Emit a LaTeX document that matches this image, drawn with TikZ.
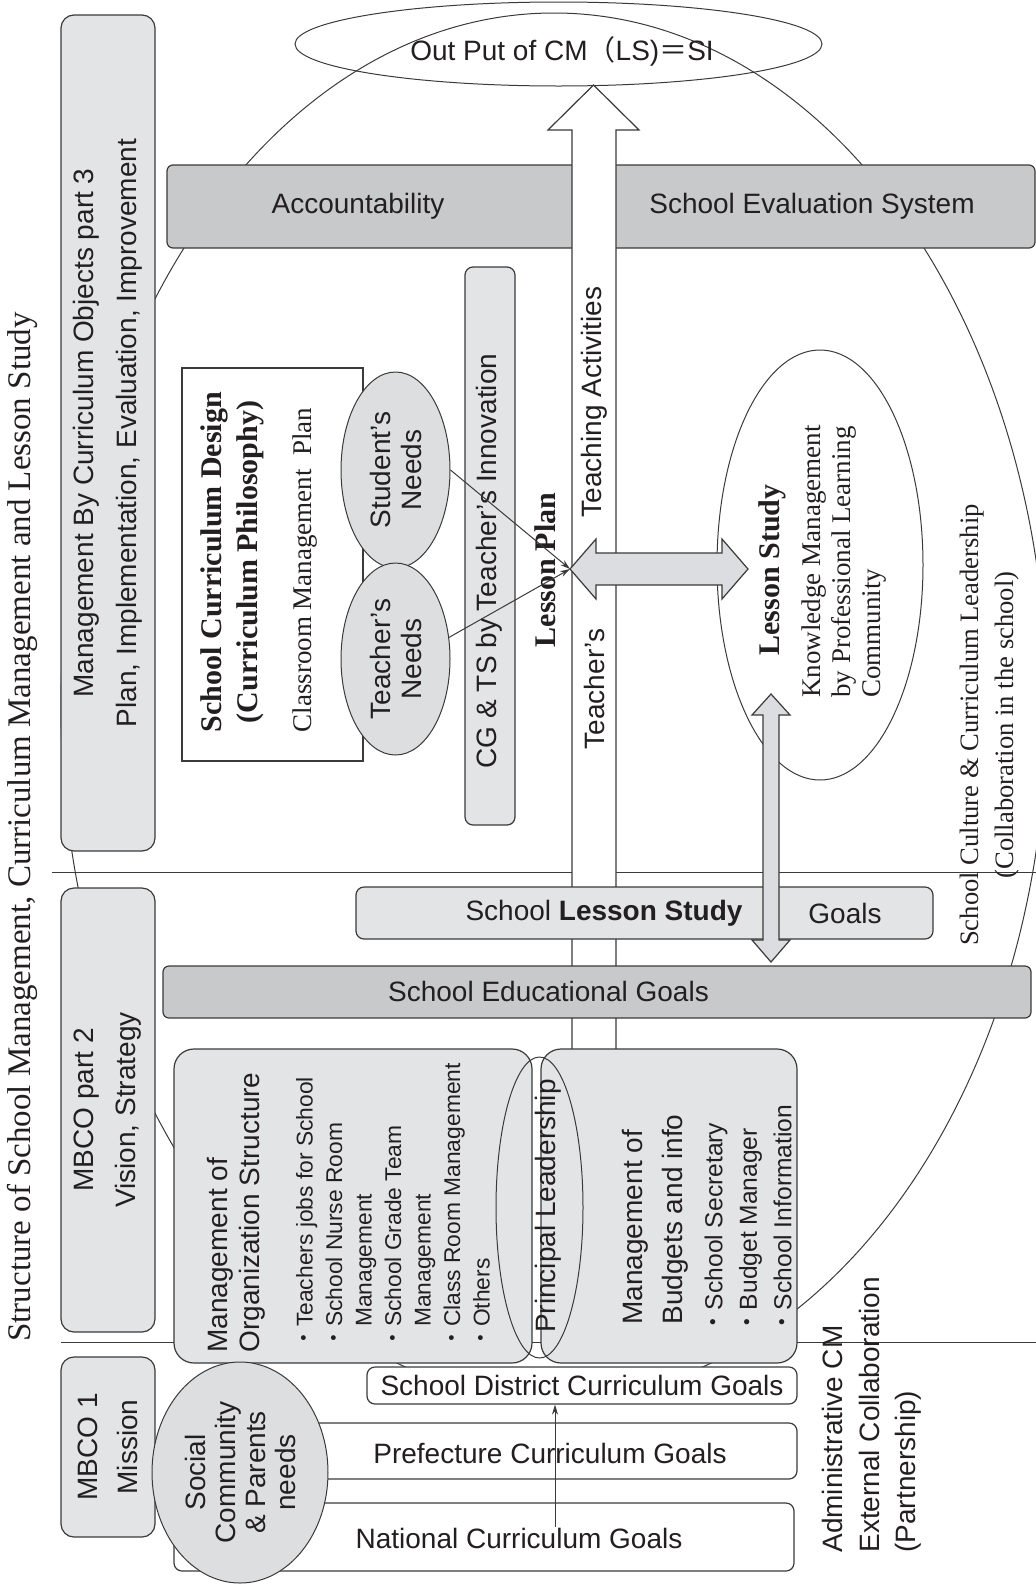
\documentclass[tikz,border=0pt]{standalone}
\usepackage{fontspec}
\setmainfont{Liberation Serif}
\setsansfont{Liberation Sans}
\newfontfamily\jpfont{Noto Sans CJK JP}
\usepackage{tikz}
\usetikzlibrary{shapes.geometric,arrows.meta}
\definecolor{linec}{HTML}{3A3A3A}
\definecolor{txtc}{HTML}{231F20}
\definecolor{lightfill}{HTML}{E3E4E6}
\definecolor{darkfill}{HTML}{C8C9CB}
\definecolor{ellfill}{HTML}{DDDEE0}
\definecolor{arrfill}{HTML}{DCDDE0}
\newlength{\dgu}\setlength{\dgu}{0.5pt}
\newcommand{\fsz}[2]{\fontsize{#1}{#2}\selectfont}
\newcommand{\jpdot}{{\jpfont ・}}

\begin{document}
\begin{tikzpicture}[x=1\dgu,y=-1\dgu,
pnl/.style n args={3}{draw=linec,fill=#1,rectangle,minimum width=#2\dgu,minimum height=#3\dgu,inner sep=0pt,line width=0.6pt,text=txtc},
ell/.style n args={3}{draw=linec,fill=#1,ellipse,minimum width=#2\dgu,minimum height=#3\dgu,inner sep=0pt,line width=0.5pt,text=txtc},
lbl/.style={inner sep=0pt,text=txtc},
fine/.style={draw=linec,line width=0.5pt},
blk/.style={draw=linec,line width=0.6pt}]
\useasboundingbox (0,0) rectangle (1036,1585);
\draw[fine] (554,706) ellipse [x radius=493\dgu,y radius=693\dgu];
\draw[fine] (52,872) -- (1036,872);
\draw[fine] (61,1342) -- (1036,1342);
\node[ell={none}{527}{84}] (outp) at (558.5,44) {};
\node[lbl,font=\sffamily\fsz{14}{17}] (outpt) at (562,51) {Out Put of CM{\jpfont （}LS){\jpfont ＝}SI};
\node[lbl,rotate=90,font=\rmfamily\fsz{16.5}{19}] (title) at (22,827) {Structure of School Management, Curriculum Management and Lesson Study};
\node[pnl={lightfill}{836}{94},rotate=90,rounded corners=13\dgu,align=center,font=\sffamily\fsz{14}{21.5}] (mbco3) at (108,433) {Management By Curriculum Objects part 3\\Plan, Implementation, Evaluation, Improvement};
\node[pnl={lightfill}{444}{94},rotate=90,rounded corners=13\dgu,align=center,font=\sffamily\fsz{14}{21}] (mbco2) at (108,1110) {MBCO part 2\\Vision, Strategy};
\node[pnl={lightfill}{180}{94},rotate=90,rounded corners=13\dgu,align=center,font=\sffamily\fsz{14}{20}] (mbco1) at (108,1447) {MBCO 1\\Mission};
\node[pnl={darkfill}{868}{83},rounded corners=6\dgu] (acc) at (601,206.5) {};
\node[lbl,font=\sffamily\fsz{14}{17}] (acct) at (358,206) {Accountability};
\node[lbl,font=\sffamily\fsz{14}{17}] (sevs) at (812,206) {School Evaluation System};
\draw[blk,fill=white] (572,1050) -- (572,130) -- (548,130) -- (593.5,85) -- (639,130) -- (616,130) -- (616,1050) -- cycle;
\node[pnl={white}{181}{393}] (scd) at (272.5,564.5) {};
\node[lbl,rotate=90,align=center,font=\rmfamily\bfseries\fsz{15}{18}] (scdt) at (232,562) {School Curriculum Design\\(Curriculum Philosophy)};
\node[lbl,rotate=90,font=\rmfamily\fsz{13.5}{16}] (cmp) at (305,570) {Classroom Management\ \ Plan};
\node[ell={ellfill}{196}{109},rotate=90,align=center,font=\sffamily\fsz{14}{15.5}] (sneeds) at (395.5,470) {Student’s\\Needs};
\node[ell={ellfill}{192}{109},rotate=90,align=center,font=\sffamily\fsz{14}{15.5}] (tneeds) at (395.5,659) {Teacher’s\\Needs};
\node[pnl={lightfill}{558}{50},rotate=90,rounded corners=8\dgu] (cgts) at (490,546) {};
\node[lbl,rotate=90,font=\sffamily\fsz{14}{17}] (cgtst) at (489,561) {CG \& TS by Teacher’s Innovation};
\node[ell={none}{206}{430}] (lsell) at (820,565) {};
\draw[blk,fill=arrfill] (570,569) -- (596,539) -- (596,553) -- (722,553) -- (722,539) -- (748,569) -- (722,599) -- (722,585) -- (596,585) -- (596,599) -- cycle;
\coordinate (lp) at (570,569);
\node[lbl,rotate=90,font=\sffamily\fsz{14}{17}] (teach) at (594,402) {Teaching Activities};
\node[lbl,rotate=90,font=\sffamily\fsz{14}{17}] (tchr) at (594,689) {Teacher’s};
\node[lbl,rotate=90,font=\rmfamily\bfseries\fsz{15}{18}] (lplan) at (545,570) {Lesson Plan};
\node[lbl,rotate=90,font=\rmfamily\bfseries\fsz{15}{18}] (lstudy) at (772,570) {Lesson Study};
\node[lbl,rotate=90,anchor=west,align=left,font=\rmfamily\fsz{13.5}{15}] (kman) at (844,698) {Knowledge Management\\by Professional Learning\\Community};
\node[pnl={lightfill}{577}{52},rounded corners=8\dgu] (slsg) at (644.5,913) {};
\node[lbl,font=\sffamily\fsz{14}{17}] (slsgt) at (604,913) {School \textbf{Lesson Study}};
\node[lbl,font=\sffamily\fsz{14}{17}] (slsgg) at (845,913) {Goals};
\node[pnl={darkfill}{868}{52},rounded corners=6\dgu] (edg) at (597,992) {};
\node[lbl,font=\sffamily\fsz{14}{17}] (edgt) at (548.5,991) {School Educational Goals};
\draw[blk,fill=arrfill] (771,694) -- (790,715) -- (779,715) -- (779,940) -- (790,940) -- (771,962) -- (752,940) -- (763,940) -- (763,715) -- (752,715) -- cycle;
\node[pnl={lightfill}{358}{314},rounded corners=20\dgu] (org) at (353,1206) {};
\node[pnl={lightfill}{256}{314},rounded corners=20\dgu] (bud) at (669,1206) {};
\node[ell={none}{87}{301}] (pl) at (539.5,1207.5) {};
\node[lbl,rotate=90,font=\sffamily\fsz{14}{17}] (plt) at (548,1206) {Principal Leadership};
\node[lbl,rotate=90,anchor=west,align=left,font=\sffamily\fsz{14}{16}] (orgh) at (236,1353) {Management of\\Organization Structure};
\node[lbl,rotate=90,anchor=west,align=left,font=\sffamily\fsz{11.4}{14.75}] (orgl) at (393,1350) {\jpdot Teachers jobs for School\\\jpdot School Nurse Room\\\hphantom{\jpdot}Management\\\jpdot School Grade Team\\\hphantom{\jpdot}Management\\\jpdot Class Room Management\\\jpdot Others};
\node[lbl,rotate=90,anchor=west,align=left,font=\sffamily\fsz{14}{20}] (budh) at (655,1325) {Management of\\Budgets and info};
\node[lbl,rotate=90,anchor=west,align=left,font=\sffamily\fsz{12.3}{17.25}] (budl) at (748,1335) {\jpdot School Secretary\\\jpdot Budget Manager\\\jpdot School Information};
\node[pnl={white}{620}{68},rounded corners=8\dgu] (natl) at (484,1537) {};
\node[lbl,font=\sffamily\fsz{14}{17}] (natlt) at (519,1538) {National Curriculum Goals};
\node[pnl={white}{557}{56},rounded corners=8\dgu] (pref) at (518.5,1451) {};
\node[lbl,font=\sffamily\fsz{14}{17}] (preft) at (550,1453) {Prefecture Curriculum Goals};
\node[pnl={white}{430}{37},rounded corners=8\dgu,font=\sffamily\fsz{14}{17}] (dist) at (582,1385.5) {School District Curriculum Goals};
\node[ell={ellfill}{221}{176},rotate=90,align=center,font=\sffamily\fsz{14}{15}] (soc) at (240,1472.5) {Social\\Community\\\& Parents\\needs};
\node[lbl,rotate=90,anchor=west,align=left,font=\sffamily\fsz{14}{18.25}] (adm) at (872,1553) {Administrative CM\\External Collaboration\\(Partnership)};
\node[lbl,rotate=90,align=center,font=\rmfamily\fsz{13.3}{17.5}] (cult) at (989.5,725) {School Culture \& Curriculum Leadership\\(Collaboration in the school)};
\coordinate (natup) at (555,1527);
\draw[fine,-{Stealth[length=5pt,width=3pt]}] (natup) -- (natup |- dist.south);
\draw[fine,-{Stealth[length=5pt,width=3pt]}] (sneeds.south) -- (lp);
\draw[fine,-{Stealth[length=5pt,width=3pt]}] (tneeds.-68) -- (lp);
\end{tikzpicture}
\end{document}
